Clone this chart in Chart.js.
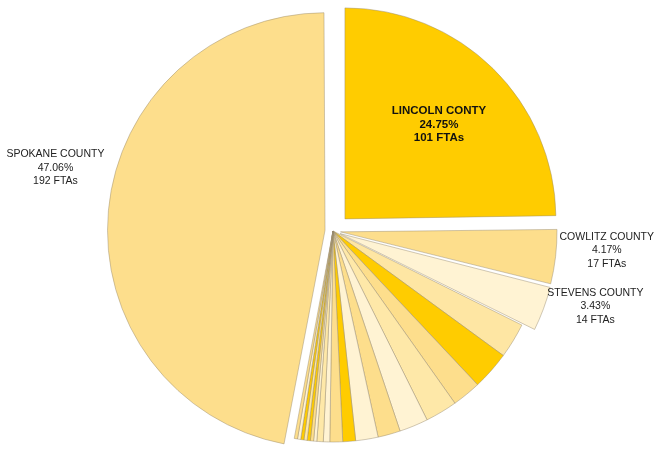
<!DOCTYPE html>
<html>
<head>
<meta charset="utf-8">
<script src="https://cdn.jsdelivr.net/npm/chart.js@4"></script>
<style>
html, body { margin: 0; padding: 0; background: #fff; }
#wrap { width: 655px; height: 449px; position: relative; }
</style>
</head>
<body>
<div id="wrap"><canvas id="pieChart"></canvas></div>
<script>
// データ（FTA件数／郡）
const countyNames = [
    "LINCOLN CONTY", "COWLITZ COUNTY", "STEVENS COUNTY",
    "County 4", "County 5", "County 6", "County 7", "County 8",
    "County 9", "County 10", "County 11", "County 12", "County 13",
    "County 14", "County 15", "County 16", "County 17", "County 18",
    "County 19", "County 20", "County 21",
    "SPOKANE COUNTY",
];
const ftaCounts = [
    101, 17, 14,
    11, 12, 9, 10, 9,
    7, 7, 4, 4, 2,
    2, 1, 1, 1, 1,
    1, 1, 1,
    192,
];

const GOLD = "#FFCC00";
const MID = "#FDDE8C";
const LIGHT = "#FEE8A8";
const PALE = "#FFF3D3";
const sliceColors = [
    GOLD, MID, PALE,
    "#FEE6A3", GOLD, MID, LIGHT, PALE,
    MID, PALE, GOLD, MID, PALE,
    LIGHT, PALE, MID, GOLD, LIGHT,
    GOLD, PALE, MID,
    MID,
];
// 切り出し量（Chart.jsは offset/4 だけ平行移動する）
const sliceOffsets = ftaCounts.map((v, i) =>
    i === 0 ? 68 : i === 1 ? 30 : i === 2 ? 30 : i === ftaCounts.length - 1 ? 32 : 0
);
const labelModes = ftaCounts.map((v, i) =>
    i === 0 ? "inside" : i === 1 || i === 2 || i === ftaCounts.length - 1 ? "outside" : null
);
const labelNudge = { 1: -7, 2: -4, 21: -42 };

// ラベル描画プラグイン
const sliceLabels = {
    id: "sliceLabels",
    afterDatasetsDraw(chart) {
        const ctx = chart.ctx;
        const meta = chart.getDatasetMeta(0);
        const total = ftaCounts.reduce((a, b) => a + b, 0);
        meta.data.forEach((arc, i) => {
            const mode = labelModes[i];
            if (!mode) return;
            const p = arc.getProps(["x", "y", "startAngle", "endAngle", "outerRadius", "circumference"], true);
            const mid = (p.startAngle + p.endAngle) / 2;
            const shift = sliceOffsets[i] / 4;
            const grow = shift * (1 - Math.sin(Math.min(Math.PI, p.circumference)));
            const cx = p.x + Math.cos(mid) * shift;
            const cy = p.y + Math.sin(mid) * shift;
            const lines = [
                countyNames[i],
                ((ftaCounts[i] / total) * 100).toFixed(2) + "%",
                ftaCounts[i] + " FTAs",
            ];
            ctx.save();
            ctx.textBaseline = "middle";
            ctx.textAlign = "center";
            let x, y;
            if (mode === "inside") {
                ctx.font = "bold 11.5px 'Liberation Sans', Arial, sans-serif";
                ctx.fillStyle = "#111";
                const r = p.outerRadius * 0.635;
                x = cx + Math.cos(mid) * r;
                y = cy + Math.sin(mid) * r + 1;
            } else {
                ctx.font = "10.5px 'Liberation Sans', Arial, sans-serif";
                ctx.fillStyle = "#222";
                const r = p.outerRadius + grow + 4;
                const w = Math.max(...lines.map((t) => ctx.measureText(t).width));
                const side = Math.cos(mid) >= 0 ? 1 : -1;
                x = cx + Math.cos(mid) * r + (side * w) / 2;
                y = cy + Math.sin(mid) * r + (labelNudge[i] || 0);
            }
            lines.forEach((t, k) => ctx.fillText(t, x, y + (k - 1) * 13.5));
            ctx.restore();
        });
    },
};

const pieCtx = document.getElementById("pieChart").getContext("2d");
new Chart(pieCtx, {
    type: "pie",
    data: {
        labels: countyNames,
        datasets: [
            {
                data: ftaCounts,
                backgroundColor: sliceColors,
                borderColor: "rgba(150, 138, 110, 0.45)",
                borderWidth: 1,
                offset: sliceOffsets,
            },
        ],
    },
    options: {
        responsive: true,
        maintainAspectRatio: false,
        animation: false,
        events: [],
        radius: 211,
        layout: { padding: { left: 11, top: 13, right: 0, bottom: 0 } },
        plugins: {
            legend: { display: false },
            tooltip: { enabled: false },
        },
    },
    plugins: [sliceLabels],
});
</script>
</body>
</html>
